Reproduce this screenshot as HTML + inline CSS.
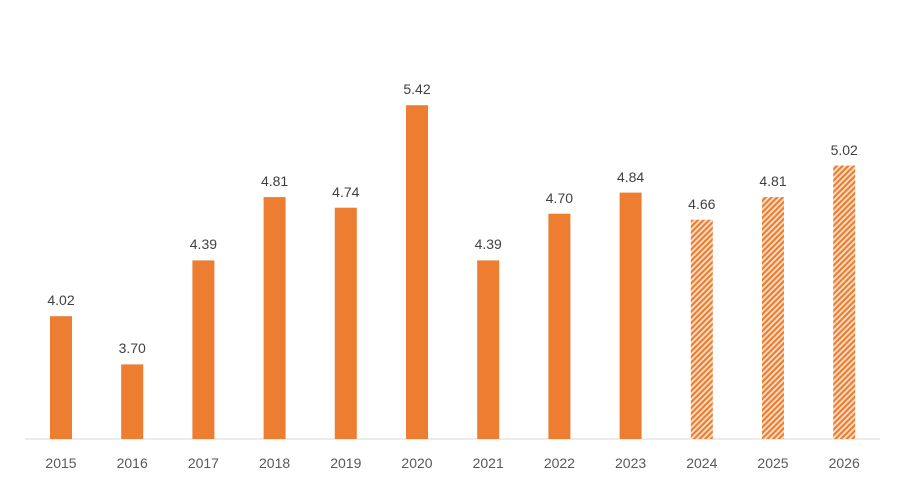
<!DOCTYPE html>
<html><head><style>body{margin:0;background:#fff}</style></head><body>
<svg width="916" height="490" xmlns="http://www.w3.org/2000/svg" font-family="Liberation Sans, sans-serif">
<defs><pattern id="h" width="4" height="4" patternUnits="userSpaceOnUse" patternTransform="rotate(45)"><rect width="4" height="4" fill="#fbe2cc"/><rect width="2.2" height="4" fill="#ed7d31"/></pattern></defs>
<line x1="25" y1="439" x2="880" y2="439" stroke="#d9d9d9" stroke-width="1"/>
<g fill="#ed7d31">
<rect x="50" y="316.2" width="22" height="122.8"/>
<rect x="121.2" y="364.4" width="22" height="74.6"/>
<rect x="192.4" y="260.4" width="22" height="178.6"/>
<rect x="263.6" y="197.1" width="22" height="241.9"/>
<rect x="334.8" y="207.7" width="22" height="231.3"/>
<rect x="406" y="105.2" width="22" height="333.8"/>
<rect x="477.2" y="260.4" width="22" height="178.6"/>
<rect x="548.4" y="213.7" width="22" height="225.3"/>
<rect x="619.6" y="192.6" width="22" height="246.4"/>
</g>
<g fill="url(#h)">
<rect x="690.8" y="219.7" width="22" height="219.3"/>
<rect x="762" y="197.1" width="22" height="241.9"/>
<rect x="833.2" y="165.5" width="22" height="273.5"/>
</g>
<g font-size="14" fill="#404040" text-anchor="middle">
<text x="61" y="305">4.02</text>
<text x="132.2" y="353">3.70</text>
<text x="203.4" y="249">4.39</text>
<text x="274.6" y="186">4.81</text>
<text x="345.8" y="197">4.74</text>
<text x="417" y="94">5.42</text>
<text x="488.2" y="249">4.39</text>
<text x="559.4" y="203">4.70</text>
<text x="630.6" y="182">4.84</text>
<text x="701.8" y="209">4.66</text>
<text x="773" y="186">4.81</text>
<text x="844.2" y="155">5.02</text>
</g>
<g font-size="14" fill="#595959" text-anchor="middle">
<text x="61" y="468">2015</text>
<text x="132.2" y="468">2016</text>
<text x="203.4" y="468">2017</text>
<text x="274.6" y="468">2018</text>
<text x="345.8" y="468">2019</text>
<text x="417" y="468">2020</text>
<text x="488.2" y="468">2021</text>
<text x="559.4" y="468">2022</text>
<text x="630.6" y="468">2023</text>
<text x="701.8" y="468">2024</text>
<text x="773" y="468">2025</text>
<text x="844.2" y="468">2026</text>
</g>
</svg>
</body></html>
